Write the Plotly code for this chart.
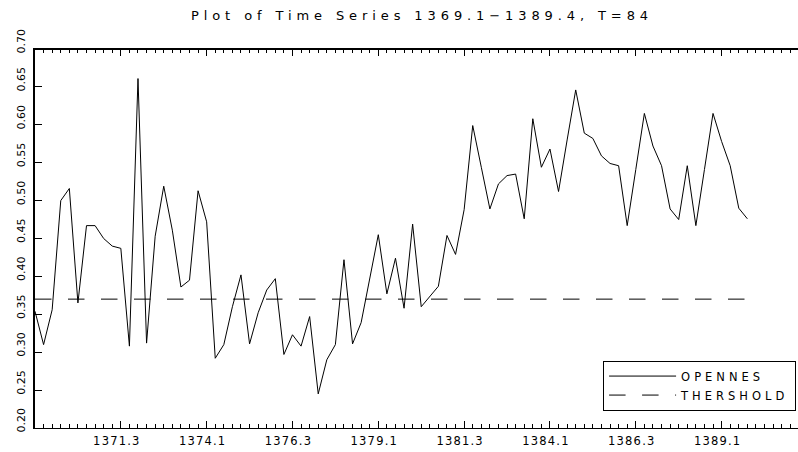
import plotly.graph_objects as go

# ---- data ----
start_year = 1369
n_obs = 84
periods = [f"{start_year + k // 4}.{k % 4 + 1}" for k in range(n_obs)]

openness = [
    0.354, 0.310, 0.356, 0.500, 0.516, 0.365, 0.467, 0.467, 0.450, 0.440,
    0.437, 0.308, 0.661, 0.312, 0.453, 0.519, 0.461, 0.386, 0.395, 0.513,
    0.472, 0.292, 0.310, 0.360, 0.402, 0.311, 0.352, 0.382, 0.397, 0.297,
    0.323, 0.308, 0.347, 0.245, 0.290, 0.310, 0.422, 0.311, 0.339, 0.397,
    0.455, 0.377, 0.424, 0.358, 0.469, 0.360, 0.374, 0.387, 0.454, 0.429,
    0.488, 0.599, 0.544, 0.489, 0.522, 0.533, 0.535, 0.476, 0.608, 0.544,
    0.568, 0.512, 0.580, 0.646, 0.589, 0.582, 0.559, 0.549, 0.546, 0.467,
    0.541, 0.615, 0.572, 0.546, 0.489, 0.475, 0.546, 0.467, 0.541, 0.615,
    0.578, 0.546, 0.490, 0.476,
]
threshold_value = 0.37
threshold = [threshold_value] * n_obs

x_tick_labels = ["1371.3", "1374.1", "1376.3", "1379.1",
                 "1381.3", "1384.1", "1386.3", "1389.1"]
y_tick_values = [0.20, 0.25, 0.30, 0.35, 0.40, 0.45, 0.50, 0.55, 0.60, 0.65, 0.70]

x_idx = list(range(n_obs))
x_tick_pos = [periods.index(t) for t in x_tick_labels]

FONT = "DejaVu Sans"


def spaced(s, px):
    return f'<span style="letter-spacing:{px}px">{s}</span>'


fig = go.Figure()
fig.add_trace(go.Scatter(
    x=x_idx, y=openness, mode="lines", name=spaced("OPENNES", 4),
    line=dict(color="black", width=1),
))
fig.add_trace(go.Scatter(
    x=x_idx, y=threshold, mode="lines", name=spaced("THERSHOLD", 4),
    line=dict(color="black", width=1, dash="16.5px,16.5px"),
))

fig.update_layout(
    width=798, height=452,
    margin=dict(l=35, r=0, t=49, b=23.5, autoexpand=False),
    paper_bgcolor="white", plot_bgcolor="white",
    font=dict(family=FONT, color="black", size=11),
    title=dict(
        text=spaced("Plot of Time Series 1369.1\u22121389.4, T=84", 4.9),
        x=422 / 798, xanchor="center", xref="container",
        y=1 - 15 / 452, yanchor="middle", yref="container",
        font=dict(family=FONT, size=13, color="black"),
    ),
    showlegend=True,
    legend=dict(
        x=0.9975, xanchor="right", y=0.046, yanchor="bottom",
        bordercolor="black", borderwidth=1, bgcolor="white",
        font=dict(family=FONT, size=11.5, color="black"),
        itemwidth=67, entrywidth=187, entrywidthmode="pixels",
    ),
    xaxis=dict(
        range=[0, 88.9], showgrid=False, zeroline=False, automargin=False,
        showline=True, linecolor="black", linewidth=1, mirror="ticks",
        tickmode="array", tickvals=x_tick_pos,
        ticktext=[spaced(t, 1.2) for t in x_tick_labels],
        ticks="inside", ticklen=7, tickcolor="black", tickwidth=1,
        minor=dict(ticks="inside", ticklen=4, tickmode="linear", tick0=0, dtick=1,
                   tickcolor="black", tickwidth=1, showgrid=False),
        tickfont=dict(family=FONT, size=11.5, color="black"),
        ticklabelstandoff=2,
        ticklabelshift=-4,
    ),
    yaxis=dict(
        range=[0.20, 0.70], showgrid=False, zeroline=False, automargin=False,
        showline=True, linecolor="black", linewidth=2, mirror=False,
        tickmode="array", tickvals=y_tick_values,
        ticktext=[f"{v:.2f}" for v in y_tick_values],
        ticks="inside", ticklen=7, tickcolor="black", tickwidth=1,
        tickangle=-90,
        tickfont=dict(family=FONT, size=11, color="black"),
        ticklabelstandoff=4,
        ticklabelshift=-6,
    ),
    shapes=[dict(type="line", xref="paper", yref="paper", x0=0, x1=1, y0=1, y1=1,
                 line=dict(color="black", width=2))],
)

fig.write_html(
    "out.html",
    config={"displayModeBar": False},
    post_script="document.body.style.margin='0';document.body.style.overflow='hidden';",
)
